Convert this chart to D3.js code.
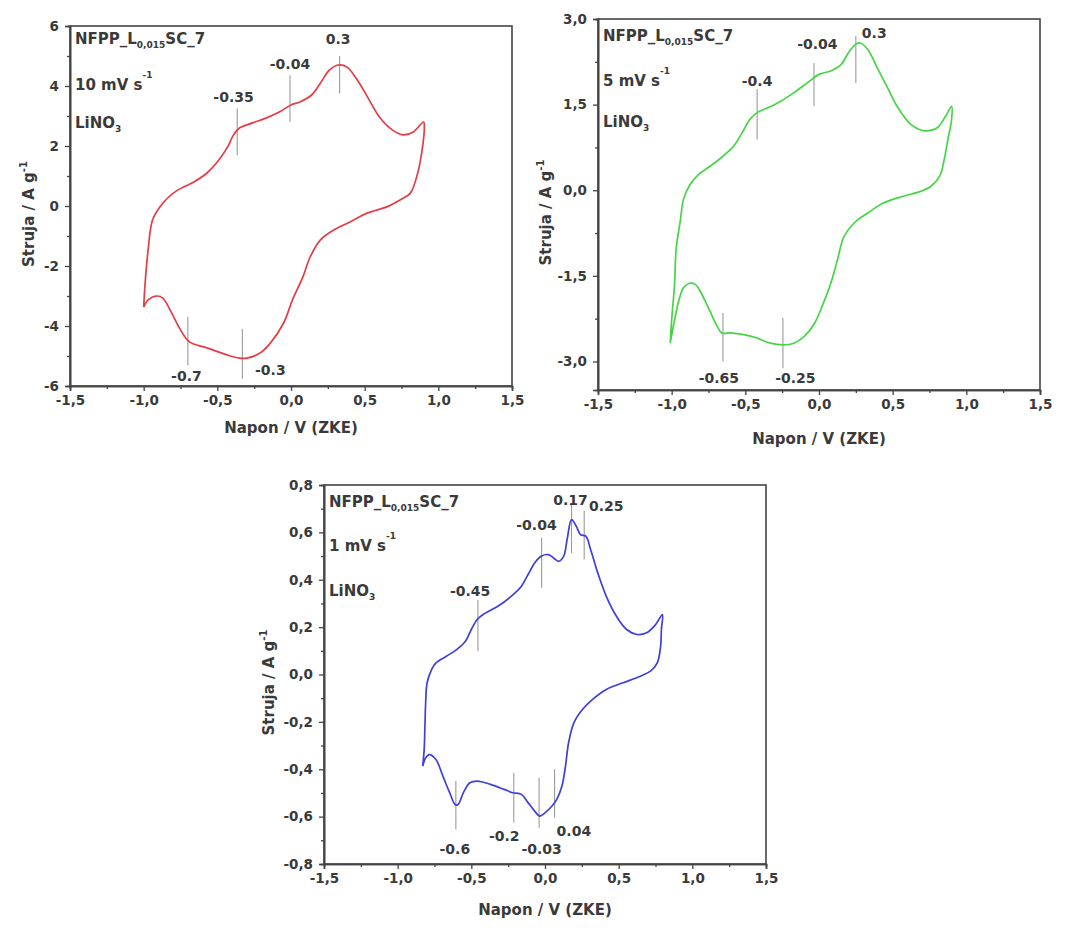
<!DOCTYPE html>
<html><head><meta charset="utf-8">
<script src="https://cdn.jsdelivr.net/npm/d3@7"></script>
<style>
body{margin:0;background:#fff}
svg text{font-family:"DejaVu Sans",Verdana,sans-serif;font-weight:bold;fill:#3a3a3a}
</style>
</head><body><svg id="c" width="1067" height="928"></svg>
<script>
// ---------------- DATA ----------------
const xTicks = [-1.5,-1.0,-0.5,0.0,0.5,1.0,1.5];
const xMinor = [-1.25,-0.75,-0.25,0.25,0.75,1.25];
const yTicks10 = [6,4,2,0,-2,-4,-6];
const yMinor10 = [5,3,1,-1,-3,-5];
const yTicks5 = [3.0,1.5,0.0,-1.5,-3.0];
const yMinor5 = [2.25,0.75,-0.75,-2.25];
const yTicks1 = [0.8,0.6,0.4,0.2,0.0,-0.2,-0.4,-0.6,-0.8];
const yMinor1 = [0.7,0.5,0.3,0.1,-0.1,-0.3,-0.5,-0.7];

const sampleName = ["NFPP_L","0,015","SC_7"];
const scanRates = ["10","5","1"];
const electrolyte = ["LiNO","3"];
const xTitle = "Napon / V (ZKE)";
const yTitle = ["Struja / A g","-1"];

// CV at 10 mV/s  [V, A/g]
const cv10 = [[-1.0,-3.37],[-0.99,-2.57],[-0.97,-1.47],[-0.94,-0.47],[-0.89,-0.03],[-0.83,0.3],[-0.77,0.53],
[-0.66,0.8],[-0.57,1.1],[-0.49,1.53],[-0.43,1.97],[-0.39,2.37],[-0.35,2.6],[-0.26,2.77],[-0.17,2.93],
[-0.08,3.13],[0.0,3.37],[0.06,3.47],[0.14,3.7],[0.2,4.1],[0.26,4.53],[0.32,4.7],[0.38,4.63],[0.45,4.2],
[0.52,3.63],[0.6,2.97],[0.69,2.53],[0.76,2.37],[0.83,2.47],[0.9,2.8],[0.905,2.63],[0.89,1.87],[0.86,1.1],
[0.81,0.43],[0.74,0.2],[0.65,-0.03],[0.52,-0.23],[0.4,-0.53],[0.29,-0.8],[0.2,-1.13],[0.13,-1.7],[0.08,-2.37],
[0.01,-3.13],[-0.05,-3.9],[-0.14,-4.57],[-0.21,-4.9],[-0.3,-5.07],[-0.35,-5.07],[-0.43,-4.97],[-0.57,-4.73],
[-0.69,-4.53],[-0.75,-4.13],[-0.82,-3.47],[-0.87,-3.07],[-0.91,-3.0],[-0.97,-3.13],[-1.0,-3.37]];

// CV at 5 mV/s
const cv5 = [[-1.01,-2.68],[-1.0,-2.27],[-0.98,-1.63],[-0.97,-1.04],[-0.94,-0.51],[-0.92,-0.16],[-0.875,0.1],
[-0.82,0.27],[-0.74,0.42],[-0.65,0.6],[-0.58,0.77],[-0.51,1.06],[-0.47,1.24],[-0.42,1.36],[-0.35,1.44],
[-0.26,1.56],[-0.17,1.71],[-0.08,1.88],[0.0,2.03],[0.08,2.09],[0.15,2.2],[0.2,2.41],[0.25,2.56],[0.28,2.58],
[0.33,2.47],[0.4,2.12],[0.47,1.77],[0.53,1.47],[0.625,1.15],[0.72,1.04],[0.8,1.09],[0.86,1.3],[0.9,1.47],
[0.9,1.24],[0.875,0.89],[0.85,0.54],[0.82,0.25],[0.76,0.07],[0.69,-0.02],[0.58,-0.1],[0.44,-0.22],[0.33,-0.4],
[0.24,-0.57],[0.17,-0.81],[0.125,-1.22],[0.08,-1.63],[0.02,-2.04],[-0.03,-2.33],[-0.1,-2.56],[-0.17,-2.68],
[-0.24,-2.71],[-0.33,-2.68],[-0.42,-2.59],[-0.51,-2.53],[-0.6,-2.5],[-0.66,-2.5],[-0.69,-2.39],[-0.74,-2.12],
[-0.8,-1.8],[-0.84,-1.65],[-0.88,-1.63],[-0.92,-1.71],[-0.95,-1.92],[-0.98,-2.27],[-1.01,-2.68]];

// CV at 1 mV/s
const cv1 = [[-0.83,-0.387],[-0.82,-0.316],[-0.815,-0.218],[-0.81,-0.12],[-0.8,-0.035],[-0.77,0.021],[-0.74,0.049],
[-0.67,0.077],[-0.6,0.105],[-0.54,0.14],[-0.5,0.19],[-0.46,0.232],[-0.42,0.253],[-0.32,0.288],[-0.23,0.33],
[-0.16,0.373],[-0.115,0.422],[-0.07,0.471],[-0.023,0.5],[0.023,0.506],[0.058,0.492],[0.092,0.478],[0.127,0.5],
[0.15,0.57],[0.18,0.654],[0.212,0.626],[0.242,0.59],[0.277,0.584],[0.31,0.527],[0.358,0.429],[0.416,0.33],
[0.485,0.246],[0.554,0.19],[0.624,0.169],[0.69,0.176],[0.75,0.21],[0.797,0.253],[0.79,0.19],[0.785,0.12],
[0.762,0.049],[0.716,0.014],[0.647,-0.007],[0.53,-0.035],[0.416,-0.063],[0.323,-0.105],[0.254,-0.148],
[0.196,-0.204],[0.16,-0.288],[0.139,-0.387],[0.115,-0.471],[0.08,-0.527],[0.046,-0.556],[0.0,-0.584],
[-0.035,-0.598],[-0.07,-0.577],[-0.115,-0.541],[-0.16,-0.506],[-0.22,-0.499],[-0.277,-0.485],[-0.37,-0.464],
[-0.46,-0.45],[-0.51,-0.457],[-0.554,-0.499],[-0.59,-0.549],[-0.61,-0.549],[-0.647,-0.499],[-0.693,-0.429],
[-0.74,-0.359],[-0.785,-0.338],[-0.81,-0.352],[-0.83,-0.387]];

// Peak markers: [V, I top, I bottom, label, label V, label I, anchor]
const ann10 = [[0.33,5.0,3.75,"0.3",0.32,5.58,"middle"],[-0.007,4.36,2.8,"-0.04",-0.007,4.75,"middle"],
[-0.365,3.25,1.69,"-0.35",-0.39,3.62,"middle"],[-0.70,-3.7,-5.32,"-0.7",-0.71,-5.65,"middle"],
[-0.33,-4.09,-5.76,"-0.3",-0.14,-5.48,"middle"]];
const ann5 = [[0.25,2.70,1.88,"0.3",0.375,2.76,"middle"],[-0.034,2.23,1.47,"-0.04",-0.011,2.56,"middle"],
[-0.42,1.77,0.89,"-0.4",-0.42,1.91,"middle"],[-0.652,-2.15,-3.0,"-0.65",-0.68,-3.29,"middle"],
[-0.245,-2.24,-3.12,"-0.25",-0.16,-3.29,"middle"]];
const ann1 = [[0.18,0.724,0.513,"0.17",0.173,0.738,"middle"],[0.266,0.69,0.485,"0.25",0.416,0.71,"middle"],
[-0.023,0.577,0.366,"-0.04",-0.058,0.633,"middle"],[-0.455,0.316,0.098,"-0.45",-0.508,0.352,"middle"],
[-0.605,-0.45,-0.654,"-0.6",-0.612,-0.738,"middle"],[-0.212,-0.415,-0.626,"-0.2",-0.277,-0.682,"middle"],
[-0.04,-0.436,-0.647,"-0.03",-0.023,-0.738,"middle"],[0.065,-0.40,-0.605,"0.04",0.196,-0.661,"middle"]];

// ---------------- DRAW ----------------
const svg = d3.select("#c");
const fmtX = v => v.toFixed(1).replace(".", ",");
const fmtInt = v => String(v);

const panels = [
  {box:{l:70,r:512,t:26,b:386}, yDom:[-6,6], yT:yTicks10, yM:yMinor10, fmtY:fmtInt, data:cv10, ann:ann10,
   color:"#e63c44", rate:scanRates[0], txt:[18,64,102], xt:47, yt:36},
  {box:{l:598,r:1040,t:19,b:390}, yDom:[-3.5,3.0], yT:yTicks5, yM:yMinor5, fmtY:fmtX, data:cv5, ann:ann5,
   color:"#44d644", rate:scanRates[1], txt:[22,67,108], xt:54, yt:47},
  {box:{l:324,r:766,t:485,b:864}, yDom:[-0.8,0.8], yT:yTicks1, yM:yMinor1, fmtY:fmtX, data:cv1, ann:ann1,
   color:"#3f3fdc", rate:scanRates[2], txt:[22,66,111], xt:51, yt:50}
];

panels.forEach(p => {
  const B = p.box;
  const x = d3.scaleLinear().domain([-1.5,1.5]).range([B.l,B.r]);
  const y = d3.scaleLinear().domain(p.yDom).range([B.b,B.t]);
  const g = svg.append("g");

  g.append("rect").attr("x",B.l).attr("y",B.t).attr("width",B.r-B.l).attr("height",B.b-B.t)
    .attr("fill","none").attr("stroke","#444").attr("stroke-width",1.6);

  g.append("g").attr("transform",`translate(0,${B.b})`)
    .call(d3.axisBottom(x).tickValues(xTicks).tickFormat(fmtX).tickSize(5).tickPadding(4));
  g.append("g").attr("transform",`translate(0,${B.b})`)
    .call(d3.axisBottom(x).tickValues(xMinor).tickFormat("").tickSize(3));
  g.append("g").attr("transform",`translate(${B.l},0)`)
    .call(d3.axisLeft(y).tickValues(p.yT).tickFormat(p.fmtY).tickSize(5).tickPadding(6));
  g.append("g").attr("transform",`translate(${B.l},0)`)
    .call(d3.axisLeft(y).tickValues(p.yM).tickFormat("").tickSize(3));
  g.selectAll(".domain").attr("stroke","#444").attr("stroke-width",1.6);
  g.selectAll(".tick line").attr("stroke","#444").attr("stroke-width",1.3);
  g.selectAll(".tick text").attr("font-size",13.5).style("fill","#3a3a3a")
     .style("font-family","'DejaVu Sans',sans-serif").style("font-weight","bold");

  g.append("text").attr("x",(B.l+B.r)/2).attr("y",B.b+p.xt).attr("text-anchor","middle")
    .attr("font-size",15).text(xTitle);
  const yt = g.append("text").attr("transform",`translate(${B.l-p.yt},${(B.t+B.b)/2+8}) rotate(-90)`)
    .attr("text-anchor","middle").attr("font-size",15);
  yt.append("tspan").text(yTitle[0]);
  yt.append("tspan").attr("dy",-7).attr("font-size",10).text(yTitle[1]);

  const tx = B.l+5;
  const t1 = g.append("text").attr("x",tx).attr("y",B.t+p.txt[0]).attr("font-size",15);
  t1.append("tspan").text(sampleName[0]);
  t1.append("tspan").attr("dy",4).attr("font-size",9).text(sampleName[1]);
  t1.append("tspan").attr("dy",-4).text(sampleName[2]);
  const t2 = g.append("text").attr("x",tx).attr("y",B.t+p.txt[1]).attr("font-size",15);
  t2.append("tspan").text(p.rate + " mV s");
  t2.append("tspan").attr("dy",-12).attr("font-size",9).text("-1");
  const t3 = g.append("text").attr("x",tx).attr("y",B.t+p.txt[2]).attr("font-size",15);
  t3.append("tspan").text(electrolyte[0]);
  t3.append("tspan").attr("dy",4).attr("font-size",9).text(electrolyte[1]);

  g.selectAll(".ml").data(p.ann).join("line")
    .attr("x1",d=>x(d[0])).attr("x2",d=>x(d[0])).attr("y1",d=>y(d[1])).attr("y2",d=>y(d[2]))
    .attr("stroke","#9a9a9a").attr("stroke-width",1.1);

  const line = d3.line().x(d=>x(d[0])).y(d=>y(d[1])).curve(d3.curveCatmullRom.alpha(0.5));
  g.append("path").datum(p.data).attr("d",line).attr("fill","none")
    .attr("stroke",p.color).attr("stroke-width",1.7);

  g.selectAll(".al").data(p.ann).join("text")
    .attr("x",d=>x(d[4])).attr("y",d=>y(d[5])+5).attr("text-anchor",d=>d[6])
    .attr("font-size",14).text(d=>d[3]);
});
</script>
</body></html>
